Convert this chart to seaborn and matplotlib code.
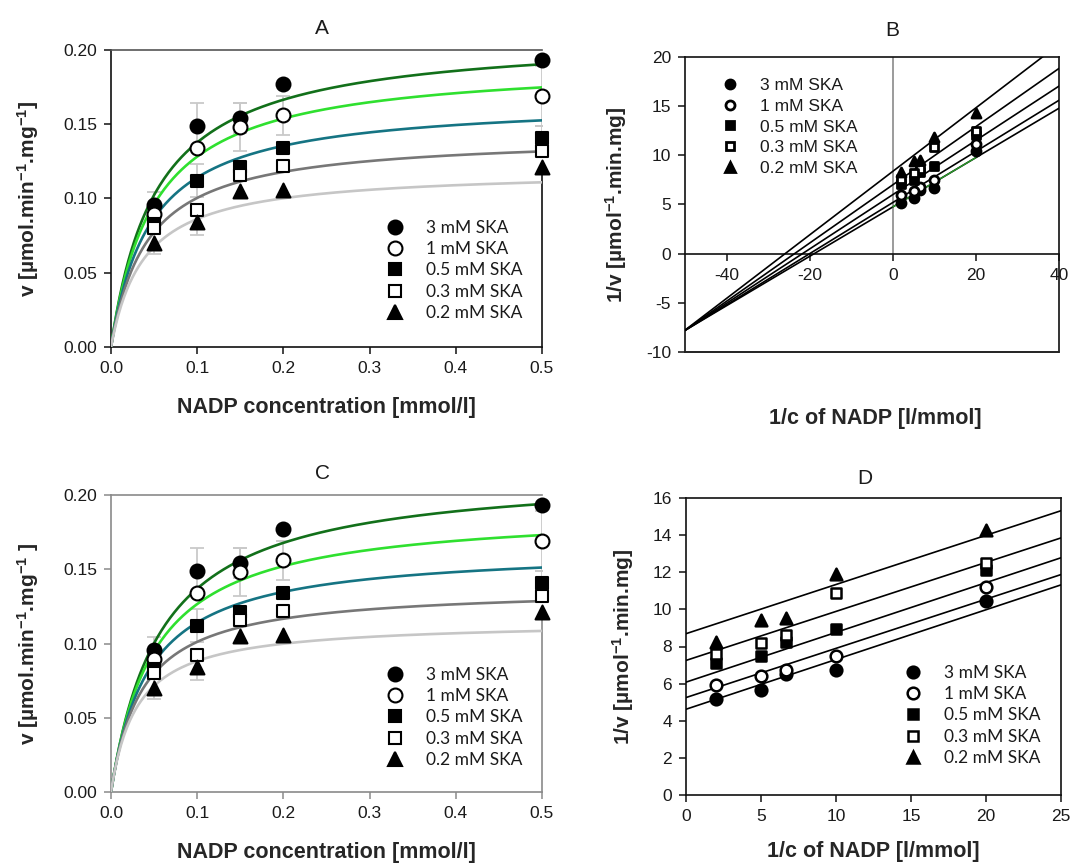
import numpy as np
import pandas as pd
import matplotlib
matplotlib.use("Agg")
import matplotlib.pyplot as plt
from matplotlib.lines import Line2D
import seaborn as sns

# ---------------------------------------------------------------- data
series = ["3 mM SKA", "1 mM SKA", "0.5 mM SKA", "0.3 mM SKA", "0.2 mM SKA"]
nadp = [0.05, 0.10, 0.15, 0.20, 0.50]          # mmol/l

v_3mM = [0.0957, 0.149, 0.154, 0.177, 0.193]   # µmol/min/mg
v_1mM = [0.0893, 0.134, 0.148, 0.156, 0.169]
v_05mM = [0.0826, 0.112, 0.121, 0.134, 0.141]
v_03mM = [0.080, 0.092, 0.116, 0.122, 0.132]
v_02mM = [0.070, 0.084, 0.105, 0.106, 0.121]

sd_3mM = [0.0086, 0.015, 0.010, 0.0, 0.0]
sd_1mM = [0.0, 0.0, 0.016, 0.013, 0.020]
sd_05mM = [0.0, 0.011, 0.0, 0.0, 0.008]
sd_03mM = [0.0, 0.0, 0.0, 0.0, 0.0]
sd_02mM = [0.0072, 0.0084, 0.0, 0.0, 0.0]

# Lineweaver-Burk fits (1/v = intercept + slope / c), free slopes
lb_intercept = [4.75, 5.20, 6.00, 7.00, 8.37]
lb_slope = [0.251, 0.260, 0.276, 0.296, 0.323]
# Lineweaver-Burk fits with parallel lines
par_intercept = [4.62, 5.25, 6.08, 7.25, 8.69]
par_slope = [0.268, 0.265, 0.268, 0.264, 0.265]

B_xticks = [-40, -20, 0, 20, 40]
B_yticks = [-10, -5, 0, 5, 10, 15, 20]
D_xticks = [0, 5, 10, 15, 20, 25]
D_yticks = [0, 2, 4, 6, 8, 10, 12, 14, 16]

values = [v_3mM, v_1mM, v_05mM, v_03mM, v_02mM]
errors = [sd_3mM, sd_1mM, sd_05mM, sd_03mM, sd_02mM]

# ---------------------------------------------------------------- style
sns.set_theme(style="ticks")
plt.rcParams["font.family"] = ["Liberation Sans", "DejaVu Sans"]
plt.rcParams.update({
    "mathtext.fontset": "custom",
    "mathtext.rm": "Liberation Sans",
    "mathtext.bf": "Liberation Sans:bold",
    "mathtext.it": "Liberation Sans:italic",
    "axes.linewidth": 1.2,
    "axes.unicode_minus": False,
    "text.color": "#1a1a1a",
})

curve_colors = ["#12701a", "#2fe02f", "#157483", "#777777", "#c6c6c6"]
markers = ["o", "o", "s", "s", "^"]
filled = [True, False, True, False, True]
legend_font = ["Lato", "DejaVu Sans"]

W, H = 1073, 868
fig = plt.figure(figsize=(W / 100, H / 100), dpi=100)


def box(l, t, r, b):
    return [l / W, 1 - b / H, (r - l) / W, (b - t) / H]


def long_points(xs, ys_list):
    rows = []
    for name, ys in zip(series, ys_list):
        for x, y in zip(xs, ys):
            rows.append({"x": x, "y": y, "series": name})
    return pd.DataFrame(rows)


def draw_points(ax, df, sizes, edge_lw, zorder=4):
    for i, name in enumerate(series):
        sub = df[df["series"] == name]
        sns.scatterplot(data=sub, x="x", y="y", ax=ax, marker=markers[i],
                        s=sizes[i] ** 2,
                        color="black" if filled[i] else "white",
                        edgecolor="black", linewidth=edge_lw,
                        legend=False, zorder=zorder, clip_on=False)


def add_legend(ax, left, top, sizes, edge_lw, font, fsize, spacing, textpad):
    handles = [Line2D([], [], ls="none", marker=markers[i], markersize=sizes[i],
                      markerfacecolor="black" if filled[i] else "white",
                      markeredgecolor="black", markeredgewidth=edge_lw)
               for i in range(len(series))]
    leg = ax.legend(handles, series, loc="upper left",
                    bbox_to_anchor=(left / W, 1 - top / H),
                    bbox_transform=fig.transFigure, frameon=False,
                    borderpad=0, borderaxespad=0, handlelength=1.0,
                    handletextpad=textpad, labelspacing=spacing,
                    prop={"family": font, "size": fsize})
    for t in leg.get_texts():
        t.set_color("#1a1a1a")
    return leg


# ---------------------------------------------------------------- Michaelis-Menten panels (A, C)
def mm_panel(rect, intercepts, slopes, spine_col, top_col, ylabel, title, title_xy):
    ax = fig.add_axes(rect)
    grid = np.linspace(0.0, 0.5, 300)
    rows = []
    for name, a, b in zip(series, intercepts, slopes):
        for c in grid:
            rows.append({"c": c, "v": c / (a * c + b), "series": name})
    curves = pd.DataFrame(rows)
    sns.lineplot(data=curves, x="c", y="v", hue="series", hue_order=series,
                 palette=curve_colors, lw=1.9, legend=False, ax=ax, zorder=3)

    for ys, es in zip(values, errors):
        xs = [x for x, e in zip(nadp, es) if e > 0]
        yv = [y for y, e in zip(ys, es) if e > 0]
        ev = [e for e in es if e > 0]
        if xs:
            ax.errorbar(xs, yv, yerr=ev, fmt="none", ecolor="#c9c9c9",
                        elinewidth=1.3, capsize=5, capthick=1.3, zorder=2)

    pts = long_points(nadp, values)
    draw_points(ax, pts, [10, 10, 8.6, 8.6, 10], 1.5)

    ax.set_xlim(0, 0.5)
    ax.set_ylim(0, 0.20)
    ax.set_xticks([0.0, 0.1, 0.2, 0.3, 0.4, 0.5])
    ax.set_xticklabels(["0.0", "0.1", "0.2", "0.3", "0.4", "0.5"])
    ax.set_yticks([0.0, 0.05, 0.10, 0.15, 0.20])
    ax.set_yticklabels(["0.00", "0.05", "0.10", "0.15", "0.20"])
    ax.tick_params(direction="out", length=5, width=1.1, labelsize=12.5,
                   colors=spine_col, labelcolor="#1a1a1a", pad=5)
    for s in ("left", "bottom"):
        ax.spines[s].set_color(spine_col)
    ax.spines["top"].set_visible(True)
    ax.spines["top"].set_color(top_col)
    ax.spines["right"].set_visible(True)
    ax.spines["right"].set_color(spine_col)
    ax.spines["right"].set_bounds(0, v_02mM[-1])
    ax.set_xlabel("NADP concentration [mmol/l]", fontsize=15.5,
                  fontweight="bold", labelpad=15)
    ax.set_ylabel(ylabel, fontsize=15, fontweight="bold", labelpad=16)
    fig.text(title_xy[0] / W, 1 - title_xy[1] / H, title, fontsize=15,
             ha="center", va="center")
    return ax


axA = mm_panel(box(111, 50, 542, 347), lb_intercept, lb_slope, "#111111", "#555555",
               r"v [µmol.min$^{\mathbf{-1}}$.mg$^{\mathbf{-1}}$]", "A", (322, 28))
add_legend(axA, 386, 220, [10, 10, 8.6, 8.6, 10], 1.5, legend_font, 12.5, 0.3, 1.3)

axC = mm_panel(box(111, 495, 542, 792), par_intercept, par_slope, "#8a8a8a", "#8a8a8a",
               r"v [µmol.min$^{\mathbf{-1}}$.mg$^{\mathbf{-1}}$ ]", "C", (322, 473))
add_legend(axC, 386, 667, [10, 10, 8.6, 8.6, 10], 1.5, legend_font, 12.5, 0.3, 1.3)

# ---------------------------------------------------------------- Lineweaver-Burk panels (B, D)
inv_c = [1.0 / c for c in nadp]
inv_v = [[1.0 / v for v in ys] for ys in values]
lb_points = long_points(inv_c, inv_v)


def fit_lines(ax, intercepts, slopes, x0, x1, lw):
    rows = []
    for name, a, b in zip(series, intercepts, slopes):
        for x in (x0, x1):
            rows.append({"x": x, "y": a + b * x, "series": name})
    df = pd.DataFrame(rows)
    sns.lineplot(data=df, x="x", y="y", hue="series", hue_order=series,
                 palette=["black"] * 5, lw=lw, legend=False, ax=ax, zorder=3)


# B
axB = fig.add_axes(box(685, 57, 1059, 352))
fit_lines(axB, lb_intercept, lb_slope, -50, 40, 1.2)
seg = pd.DataFrame({"x": [0, 20],
                    "y": [lb_intercept[0] + lb_slope[0] * x for x in (0, 20)]})
sns.lineplot(data=seg, x="x", y="y", color="#2a9a2a", lw=1.0, ax=axB, zorder=3.5)
axB.axvline(0, ymin=10 / 30, ymax=1, color="#8a8a8a", lw=1.2, zorder=1)
axB.axhline(-10, color="#222222", lw=1.4, zorder=5, clip_on=False)
draw_points(axB, lb_points, [6.5, 6.5, 5.4, 5.4, 6.5], 2.0)
axB.set_xlim(-50, 40)
axB.set_ylim(-10, 20)
axB.set_xticks(B_xticks)
axB.set_yticks(B_yticks)
axB.spines["bottom"].set_position(("data", 0))
for s in ("top", "right", "left", "bottom"):
    axB.spines[s].set_visible(True)
    axB.spines[s].set_color("#111111")
axB.tick_params(direction="out", length=5, width=1.1, labelsize=12.5,
                colors="#111111", labelcolor="#1a1a1a", pad=5)
axB.set_xlabel("1/c of NADP [l/mmol]", fontsize=15.5, fontweight="bold")
axB.xaxis.set_label_coords(0.51, -0.19)
axB.set_ylabel(r"1/v [µmol$^{\mathbf{-1}}$.min.mg]", fontsize=15,
               fontweight="bold", labelpad=12)
fig.text(892 / W, 1 - 30 / H, "B", fontsize=15, ha="center", va="center")
add_legend(axB, 721, 78, [6.5, 6.5, 5.4, 5.4, 6.5], 2.0,
           ["Liberation Sans", "DejaVu Sans"], 12.5, 0.32, 1.22)

# D
axD = fig.add_axes(box(686, 498, 1061, 795))
fit_lines(axD, par_intercept, par_slope, 0, 25, 1.2)
draw_points(axD, lb_points, [8.4, 8.4, 7.2, 7.2, 8.4], 1.8)
axD.set_xlim(0, 25)
axD.set_ylim(0, 16)
axD.set_xticks(D_xticks)
axD.set_yticks(D_yticks)
for s in ("top", "right", "left", "bottom"):
    axD.spines[s].set_visible(True)
    axD.spines[s].set_color("#111111")
axD.tick_params(direction="out", length=5, width=1.1, labelsize=12.5,
                colors="#111111", labelcolor="#1a1a1a", pad=5)
axD.set_xlabel("1/c of NADP [l/mmol]", fontsize=15.5, fontweight="bold", labelpad=12)
axD.set_ylabel(r"1/v [µmol$^{\mathbf{-1}}$.min.mg]", fontsize=15,
               fontweight="bold", labelpad=12)
fig.text(865 / W, 1 - 478 / H, "D", fontsize=15, ha="center", va="center")
add_legend(axD, 904, 665, [8.4, 8.4, 7.2, 7.2, 8.4], 1.8, legend_font, 12.5, 0.3, 1.3)

fig.savefig("out.png", dpi=100, facecolor="white")
